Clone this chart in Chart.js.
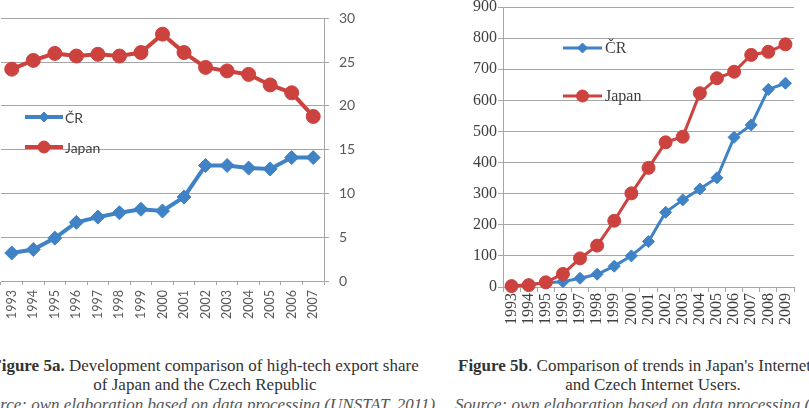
<!DOCTYPE html>
<html>
<head>
<meta charset="utf-8">
<script src="https://cdn.jsdelivr.net/npm/chart.js@4.4.0/dist/chart.umd.min.js"></script>
<style>
  html, body { margin: 0; padding: 0; background: #fff; }
  body { width: 809px; height: 408px; position: relative; overflow: hidden; }
  canvas { position: absolute; }
  #chart5a { left: -30px; top: 0; }
  #chart5b { left: 400px; top: -10px; }
  .cap { position: absolute; font-family: "Liberation Serif", "Times New Roman", serif; font-size: 17px; line-height: 19px; color: #333; white-space: nowrap; }
  .center { width: 700px; text-align: center; }
  .src { font-style: italic; color: #555; }
</style>
</head>
<body>
<canvas id="chart5a" width="430" height="335"></canvas>
<canvas id="chart5b" width="409" height="345"></canvas>

<div class="cap center" style="left:-145px; top:356px;"><b>Figure 5a.</b> Development comparison of high-tech export share</div>
<div class="cap center" style="left:-145px; top:375px;">of Japan and the Czech Republic</div>
<div class="cap center src" style="left:-145px; top:395px;">Source: own elaboration based on data processing (UNSTAT, 2011)</div>

<div class="cap" style="left:458px; top:356px;"><b>Figure 5b</b>. Comparison of trends in Japan's Internet Users</div>
<div class="cap center" style="left:303px; top:375px;">and Czech Internet Users.</div>
<div class="cap src" style="left:455px; top:395px;">Source: own elaboration based on data processing (WB, 2011)</div>

<script>
// Figure 5a - high-tech export share (%)
const years5a = ['1993','1994','1995','1996','1997','1998','1999','2000','2001','2002','2003','2004','2005','2006','2007'];
const crExport = [3.2, 3.6, 4.9, 6.7, 7.3, 7.8, 8.2, 8.0, 9.6, 13.2, 13.2, 12.9, 12.8, 14.1, 14.1];
const japanExport = [24.2, 25.2, 26.0, 25.7, 25.9, 25.7, 26.1, 28.2, 26.1, 24.4, 24.0, 23.6, 22.4, 21.5, 18.8];
const ticks5a = [0, 5, 10, 15, 20, 25, 30];

// Figure 5b - internet users
const years5b = ['1993','1994','1995','1996','1997','1998','1999','2000','2001','2002','2003','2004','2005','2006','2007','2008','2009'];
const crInternet = [3, 8, 14, 17, 28, 41, 67, 100, 146, 240, 280, 315, 351, 481, 521, 635, 655];
const japanInternet = [3, 6, 15, 42, 92, 133, 213, 301, 383, 465, 483, 623, 671, 692, 746, 756, 780];
const ticks5b = [0, 100, 200, 300, 400, 500, 600, 700, 800, 900];

const seriesNames = ['ČR', 'Japan'];
const BLUE = '#3f82c5';
const RED = '#cc423f';
const SERIF = '"Liberation Serif", "Times New Roman", serif';

// legenda desenhada dentro da area do grafico (como no Excel)
const insideLegend = {
    id: 'insideLegend',
    afterDraw(chart, args, o) {
        const ctx = chart.ctx;
        ctx.save();
        chart.data.datasets.forEach(function (ds, i) {
            const y = o.ys[i];
            ctx.strokeStyle = ds.borderColor;
            ctx.lineWidth = ds.borderWidth;
            ctx.beginPath();
            ctx.moveTo(o.x1, y);
            ctx.lineTo(o.x2, y);
            ctx.stroke();
            ctx.fillStyle = ds.borderColor;
            ctx.lineWidth = 1;
            Chart.helpers.drawPoint(ctx, { pointStyle: ds.pointStyle, radius: o.radius[i], rotation: 0, borderWidth: 1 }, (o.x1 + o.x2) / 2, y);
            ctx.fillStyle = o.color;
            ctx.font = o.font;
            ctx.textBaseline = 'middle';
            ctx.fillText(ds.label, o.textX, y + 1);
        });
        ctx.restore();
    }
};

new Chart(document.getElementById('chart5a'), {
    type: 'line',
    data: {
        labels: years5a,
        datasets: [
            { label: seriesNames[0], data: crExport, borderColor: BLUE, backgroundColor: BLUE, borderWidth: 4, pointStyle: 'rectRot', pointRadius: 7, pointBorderWidth: 1, tension: 0, order: 1, clip: false },
            { label: seriesNames[1], data: japanExport, borderColor: RED, backgroundColor: RED, borderWidth: 4, pointStyle: 'circle', pointRadius: 7, pointBorderWidth: 1, tension: 0, order: 0, clip: false }
        ]
    },
    options: {
        responsive: false, maintainAspectRatio: false, animation: false,
        layout: { padding: { left: 31, top: 15, right: 0, bottom: 0 } },
        plugins: {
            legend: { display: false }, tooltip: { enabled: false },
            insideLegend: { x1: 55, x2: 93, textX: 95, ys: [117, 147], radius: [5, 6], font: '14px Lato', color: '#404040' }
        },
        scales: {
            x: {
                offset: true,
                grid: { display: true, drawOnChartArea: false, offset: true, color: '#a6a6a6', tickLength: 4 },
                border: { color: '#a6a6a6' },
                ticks: { autoSkip: false, minRotation: 90, maxRotation: 90, padding: 5, color: '#595959', font: { family: 'Lato', size: 12.5 } },
                afterFit: function (s) { s.height = 54; }
            },
            y: {
                position: 'right', min: 0, max: 30,
                afterBuildTicks: function (s) { s.ticks = ticks5a.map(v => ({ value: v })); },
                grid: { color: '#a6a6a6', tickLength: 5 },
                border: { color: '#a6a6a6' },
                ticks: { padding: 10, color: '#595959', font: { family: 'Lato', size: 14 } },
                afterFit: function (s) { s.width = 76; }
            }
        }
    },
    plugins: [insideLegend]
});

new Chart(document.getElementById('chart5b'), {
    type: 'line',
    data: {
        labels: years5b,
        datasets: [
            { label: seriesNames[0], data: crInternet, borderColor: BLUE, backgroundColor: BLUE, borderWidth: 3, pointStyle: 'rectRot', pointRadius: 6, pointBorderWidth: 1, tension: 0, order: 1, clip: false },
            { label: seriesNames[1], data: japanInternet, borderColor: RED, backgroundColor: RED, borderWidth: 3, pointStyle: 'circle', pointRadius: 6.5, pointBorderWidth: 1, tension: 0, order: 0, clip: false }
        ]
    },
    options: {
        responsive: false, maintainAspectRatio: false, animation: false,
        layout: { padding: { left: 0, top: 17, right: 15, bottom: 0 } },
        plugins: {
            legend: { display: false }, tooltip: { enabled: false },
            insideLegend: { x1: 163, x2: 202, textX: 205, ys: [58, 106], radius: [5, 6], font: '16px "Liberation Serif"', color: '#404040' }
        },
        scales: {
            x: {
                offset: true,
                grid: { display: true, drawOnChartArea: false, offset: true, color: '#a6a6a6', tickLength: 5 },
                border: { color: '#a6a6a6' },
                ticks: { autoSkip: false, minRotation: 90, maxRotation: 90, padding: 1, color: '#404040', font: { family: SERIF, size: 16 } },
                afterFit: function (s) { s.height = 48; }
            },
            y: {
                position: 'left', min: 0, max: 900,
                afterBuildTicks: function (s) { s.ticks = ticks5b.map(v => ({ value: v })); },
                grid: { color: '#a6a6a6', tickLength: 5 },
                border: { color: '#a6a6a6' },
                ticks: { padding: 1, color: '#404040', font: { family: SERIF, size: 16 } },
                afterFit: function (s) { s.width = 103; }
            }
        }
    },
    plugins: [insideLegend]
});
</script>
</body>
</html>
